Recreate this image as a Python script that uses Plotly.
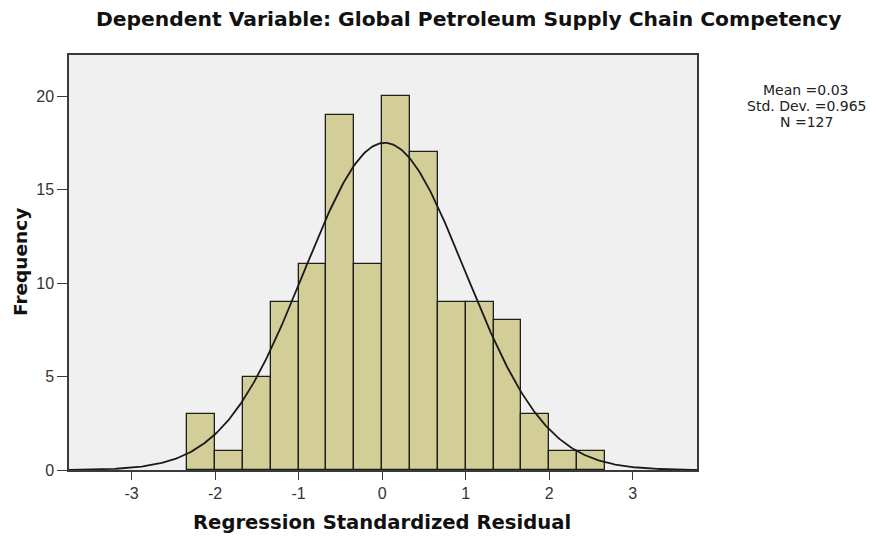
import numpy as np
import plotly.graph_objects as go

# Histogram bins of the regression standardized residuals (width 1/3)
bin_start = -7 / 3
bin_width = 1 / 3
counts = [3, 1, 5, 9, 11, 19, 11, 20, 17, 9, 9, 8, 3, 1, 1]

# Summary statistics of the residuals
MEAN = 0.03
SD = 0.965
N = 127

x_ticks = [-3, -2, -1, 0, 1, 2, 3]
y_ticks = [0, 5, 10, 15, 20]

centers = [bin_start + (i + 0.5) * bin_width for i in range(len(counts))]

# Normal curve scaled to the histogram (count per bin)
xs = np.linspace(-3.75, 3.77, 400)
ys = N * bin_width / (SD * np.sqrt(2 * np.pi)) * np.exp(-0.5 * ((xs - MEAN) / SD) ** 2)

FONT = "Liberation Sans, Arial, sans-serif"
WIDE = "DejaVu Sans, Verdana, sans-serif"

# plot area in pixels
L, R, T, B = 69, 697, 55, 470
W, H = 872, 542


def px(xpix):
    return (xpix - L) / (R - L)


fig = go.Figure()
fig.add_trace(go.Bar(
    x=centers, y=counts, width=bin_width,
    marker=dict(color="#d3ce97", line=dict(color="#1e1e1e", width=1.3)),
    hoverinfo="x+y",
))
fig.add_trace(go.Scatter(
    x=xs, y=ys, mode="lines",
    line=dict(color="#1a1a1a", width=1.8),
    hoverinfo="skip",
))

fig.update_layout(
    width=W, height=H,
    margin=dict(l=L, r=W - R, t=T, b=H - B),
    paper_bgcolor="white",
    plot_bgcolor="#f0f0f0",
    showlegend=False,
    bargap=0,
    font=dict(family=FONT, color="#222222"),
)
fig.update_xaxes(
    range=[-3.75, 3.77], tickvals=x_ticks, ticktext=[str(v) for v in x_ticks],
    showgrid=False, zeroline=False,
    showline=True, linecolor="#3a3a3a", linewidth=1.5, mirror=True,
    ticks="outside", ticklen=8, tickcolor="#3a3a3a", tickwidth=1.3,
    tickfont=dict(size=16, color="#333333"),
)
fig.update_yaxes(
    range=[0, 22.2], tickvals=y_ticks, ticktext=[str(v) for v in y_ticks],
    showgrid=False, zeroline=False,
    showline=True, linecolor="#3a3a3a", linewidth=1.5, mirror=True,
    ticks="outside", ticklen=10, tickcolor="#3a3a3a", tickwidth=1.3,
    tickfont=dict(size=16, color="#333333"),
)

# chart title
fig.add_annotation(
    text="<b>Dependent Variable: Global Petroleum Supply Chain Competency</b>",
    xref="paper", yref="paper", x=px(469), y=1,
    yshift=T - 19, xanchor="center", yanchor="middle", showarrow=False,
    font=dict(family=WIDE, size=20.3, color="#111111"),
)
# axis titles
fig.add_annotation(
    text="<b>Regression Standardized Residual</b>",
    xref="paper", yref="paper", x=px(382), y=0,
    yshift=-(522 - B), xanchor="center", yanchor="middle", showarrow=False,
    font=dict(family=WIDE, size=19.6, color="#111111"),
)
fig.add_annotation(
    text="<b>Frequency</b>", textangle=-90,
    xref="paper", yref="paper", x=px(20), y=(B - 262) / (B - T),
    xanchor="center", yanchor="middle", showarrow=False,
    font=dict(family=WIDE, size=18.5, color="#111111"),
)

# summary statistics box
stats_lines = [f"Mean ={MEAN}", f"Std. Dev. ={SD}", f"N ={N}"]
for i, line in enumerate(stats_lines):
    fig.add_annotation(
        text=line, xref="paper", yref="paper", x=px(806), y=1,
        yshift=T - (89.5 + 16 * i), xanchor="center", yanchor="middle",
        showarrow=False, font=dict(family=WIDE, size=14, color="#222222"),
    )

fig.write_html("out.html")
